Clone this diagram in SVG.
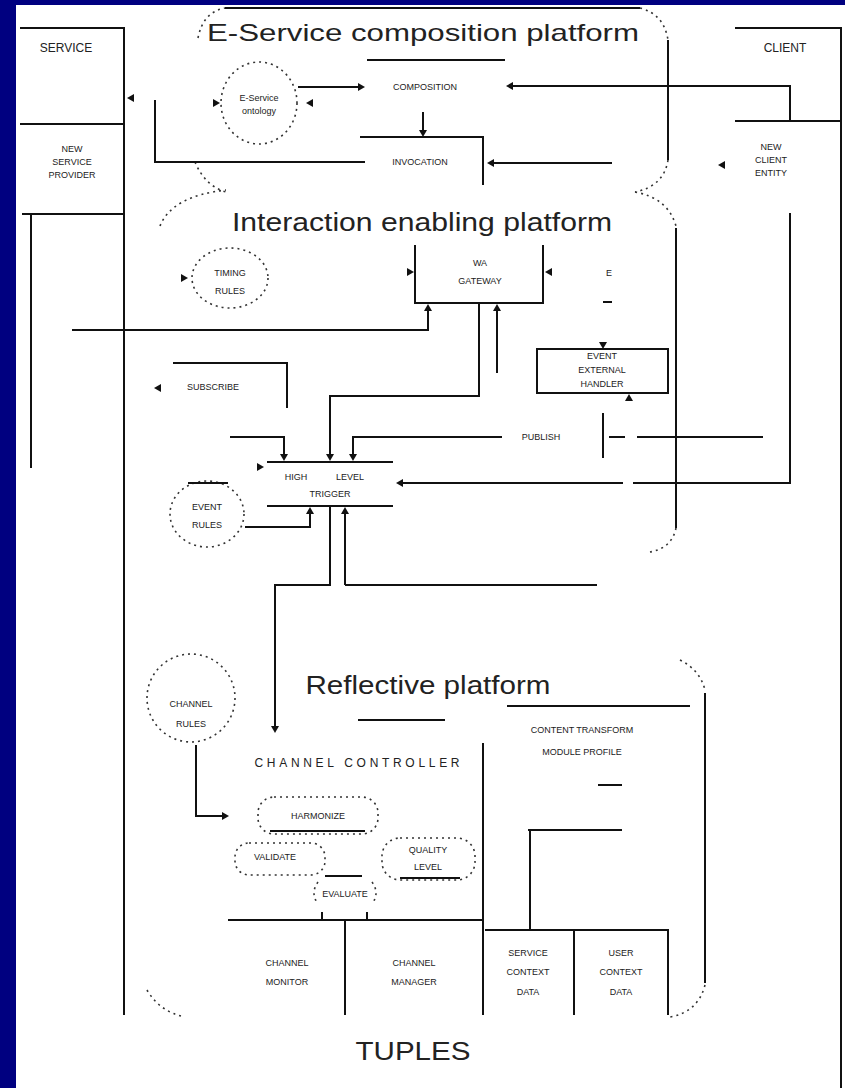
<svg xmlns="http://www.w3.org/2000/svg" xmlns:xlink="http://www.w3.org/1999/xlink" width="845" height="1088" viewBox="0 0 845 1088">
<style>
.s{fill:none;stroke:#111;stroke-width:2}
.d{fill:none;stroke:#333;stroke-width:1.6;stroke-dasharray:2 4}
.t{font-family:"Liberation Sans",Arial,sans-serif;font-size:9px;fill:#222;text-anchor:middle}
.n{font-family:"Liberation Sans",Arial,sans-serif;font-size:12px;fill:#222;text-anchor:middle}
.h{font-family:"Liberation Sans",Arial,sans-serif;fill:#222;text-anchor:middle}
</style>
<defs>
<path id="a" d="M0,0 L-7,-4 L-7,4 Z" fill="#111"/>
</defs>
<rect x="0" y="0" width="845" height="1088" fill="#000080"/>
<rect x="16" y="5" width="829" height="1083" fill="#fff"/>

<g id="platform-composition">
<path class="d" d="M198,38 Q203,12 225,8"/>
<path class="s" d="M225,8 H640"/>
<path class="d" d="M640,8 Q664,14 668,40"/>
<path class="s" d="M668,40 V160"/>
<path class="d" d="M668,160 Q664,186 635,192"/>
<path class="d" d="M195,162 Q205,186 226,192"/>
<text class="h" x="423" y="41" font-size="24" textLength="432" lengthAdjust="spacingAndGlyphs">E-Service composition platform</text>
</g>

<g id="platform-interaction">
<path class="d" d="M160,226 Q172,196 226,190"/>
<path class="d" d="M635,192 Q668,198 676,226"/>
<path class="s" d="M676,228 V528"/>
<path class="d" d="M676,528 Q672,548 650,552"/>
<text class="h" x="422" y="231" font-size="25" textLength="380" lengthAdjust="spacingAndGlyphs">Interaction enabling platform</text>
</g>

<g id="platform-reflective">
<path class="d" d="M680,660 Q700,670 705,690"/>
<path class="s" d="M705,693 V983"/>
<path class="d" d="M705,985 Q698,1012 670,1017"/>
<path class="d" d="M147,990 Q160,1012 185,1017"/>
<path class="s" d="M507,706 H690 M358,720 H445"/>
<text class="h" x="428" y="694" font-size="25" textLength="245" lengthAdjust="spacingAndGlyphs">Reflective platform</text>
</g>

<g id="service">
<path class="s" d="M20,28 H124 V1015 M20,124 H124 M22,214 H124 M31,214 V468"/>
<text class="n" x="66" y="52" font-size="13">SERVICE</text>
<text class="t" x="72" y="152">NEW</text>
<text class="t" x="72" y="165">SERVICE</text>
<text class="t" x="72" y="178">PROVIDER</text>
</g>

<g id="client">
<path class="s" d="M735,28 H841 V1088 M735,121 H841"/>
<text class="n" x="785" y="52" font-size="13">CLIENT</text>
<text class="t" x="771" y="150">NEW</text>
<text class="t" x="771" y="163">CLIENT</text>
<text class="t" x="771" y="176">ENTITY</text>
</g>

<g id="eservice-ontology">
<ellipse class="d" cx="259" cy="103" rx="38" ry="41"/>
<text class="t" x="259" y="101">E-Service</text>
<text class="t" x="259" y="114">ontology</text>
</g>

<g id="composition">
<path class="s" d="M367,60 H505"/>
<text class="t" x="425" y="90">COMPOSITION</text>
</g>

<g id="invocation">
<path class="s" d="M360,137 H483 V185"/>
<text class="t" x="420" y="165">INVOCATION</text>
</g>

<g id="timing-rules">
<ellipse class="d" cx="230" cy="278" rx="38" ry="30"/>
<text class="t" x="230" y="276">TIMING</text>
<text class="t" x="230" y="294">RULES</text>
</g>

<g id="wa-gateway">
<path class="s" d="M415,245 V303 H543 V245"/>
<text class="t" x="480" y="266">WA</text>
<text class="t" x="480" y="284">GATEWAY</text>
</g>

<g id="fragment">
<text class="t" x="609" y="276">E</text>
<path class="s" d="M603,302 H612" stroke-width="1.5"/>
</g>

<g id="external-handler">
<rect class="s" x="537" y="349" width="131" height="44"/>
<text class="t" x="602" y="359" font-size="8">EVENT</text>
<text class="t" x="602" y="373" font-size="8">EXTERNAL</text>
<text class="t" x="602" y="387" font-size="8">HANDLER</text>
</g>

<g id="subscribe">
<text class="t" x="213" y="390">SUBSCRIBE</text>
</g>

<g id="publish">
<text class="t" x="541" y="440">PUBLISH</text>
</g>

<g id="high-level-engine">
<path class="s" d="M267,462 H393 M267,506 H393"/>
<text class="t" x="296" y="480">HIGH</text>
<text class="t" x="350" y="480">LEVEL</text>
<text class="t" x="330" y="497">TRIGGER</text>
</g>

<g id="event-rules">
<ellipse class="d" cx="207" cy="514" rx="37" ry="33"/>
<path class="s" d="M188,483 H228" stroke-width="1.5"/>
<text class="t" x="207" y="510">EVENT</text>
<text class="t" x="207" y="528">RULES</text>
</g>

<g id="channel-rules">
<ellipse class="d" cx="191" cy="698" rx="44" ry="44"/>
<text class="t" x="191" y="707">CHANNEL</text>
<text class="t" x="191" y="727">RULES</text>
</g>

<g id="channel-controller">
<text class="n" x="357" y="767" textLength="205">CHANNEL CONTROLLER</text>
</g>

<g id="content-profile">
<text class="t" x="582" y="733">CONTENT TRANSFORM</text>
<text class="t" x="582" y="755">MODULE PROFILE</text>
<path class="s" d="M598,785 H622"/>
</g>

<g id="harmonize">
<rect class="d" x="258" y="797" width="120" height="37" rx="16"/>
<path class="s" d="M270,831 H365" stroke-width="1.5"/>
<text class="t" x="318" y="819">HARMONIZE</text>
</g>

<g id="validate">
<rect class="d" x="235" y="843" width="90" height="32" rx="14"/>
<text class="t" x="275" y="860">VALIDATE</text>
</g>

<g id="evaluate">
<path class="d" d="M318,882 Q310,893 318,904 M372,882 Q380,893 372,904"/>
<text class="t" x="345" y="897">EVALUATE</text>
</g>

<g id="quality-level">
<rect class="d" x="382" y="838" width="93" height="42" rx="18"/>
<path class="s" d="M400,878 H460" stroke-width="1.5"/>
<text class="t" x="428" y="853">QUALITY</text>
<text class="t" x="428" y="870">LEVEL</text>
</g>

<g id="channel-monitor">
<path class="s" d="M228,920 H483 M345,920 V1015"/>
<text class="t" x="287" y="966">CHANNEL</text>
<text class="t" x="287" y="985">MONITOR</text>
</g>

<g id="channel-manager">
<text class="t" x="414" y="966">CHANNEL</text>
<text class="t" x="414" y="985">MANAGER</text>
</g>

<g id="service-context">
<path class="s" d="M483,743 V1015 M485,930 H668 V1015 M574,930 V1015 M530,830 V930 M528,830 H622"/>
<text class="t" x="528" y="956">SERVICE</text>
<text class="t" x="528" y="975">CONTEXT</text>
<text class="t" x="528" y="995">DATA</text>
</g>

<g id="user-context">
<text class="t" x="621" y="956">USER</text>
<text class="t" x="621" y="975">CONTEXT</text>
<text class="t" x="621" y="995">DATA</text>
</g>

<g id="tuples">
<text class="h" x="413" y="1060" font-size="26" textLength="115" lengthAdjust="spacingAndGlyphs">TUPLES</text>
</g>

<g id="connectors">
<path class="s" d="M298,87 H363"/>
<use xlink:href="#a" transform="translate(365,87)"/>
<path class="s" d="M790,121 V86 H510"/>
<use xlink:href="#a" transform="translate(506,86) rotate(180)"/>
<path class="s" d="M423,112 V135"/>
<use xlink:href="#a" transform="translate(423,137) rotate(90)"/>
<path class="s" d="M612,163 H492"/>
<use xlink:href="#a" transform="translate(487,163) rotate(180)"/>
<path class="s" d="M365,162 H155 V100"/>
<use xlink:href="#a" transform="translate(127,98) rotate(180)"/>
<use xlink:href="#a" transform="translate(220,103)"/>
<use xlink:href="#a" transform="translate(306,103) rotate(180)"/>
<use xlink:href="#a" transform="translate(718,165) rotate(180)"/>
<use xlink:href="#a" transform="translate(188,278)"/>
<use xlink:href="#a" transform="translate(414,272)"/>
<use xlink:href="#a" transform="translate(545,272) rotate(180)"/>
<path class="s" d="M72,330 H428 V306"/>
<use xlink:href="#a" transform="translate(428,304) rotate(-90)"/>
<path class="s" d="M497,373 V306"/>
<use xlink:href="#a" transform="translate(497,304) rotate(-90)"/>
<path class="s" d="M479,303 V396 H330 V455"/>
<use xlink:href="#a" transform="translate(330,461) rotate(90)"/>
<use xlink:href="#a" transform="translate(603,349) rotate(90)"/>
<use xlink:href="#a" transform="translate(629,394) rotate(-90)"/>
<path class="s" d="M173,363 H287 V408"/>
<use xlink:href="#a" transform="translate(154,388) rotate(180)"/>
<path class="s" d="M230,437 H284 V455"/>
<use xlink:href="#a" transform="translate(284,461) rotate(90)"/>
<path class="s" d="M502,437 H353 V455"/>
<use xlink:href="#a" transform="translate(353,461) rotate(90)"/>
<path class="s" d="M603,413 V458 M609,437 H625 M637,437 H763"/>
<path class="s" d="M790,213 V483 H633 M623,483 H402"/>
<use xlink:href="#a" transform="translate(396,483) rotate(180)"/>
<use xlink:href="#a" transform="translate(264,467)"/>
<path class="s" d="M245,527 H310 V512"/>
<use xlink:href="#a" transform="translate(310,507) rotate(-90)"/>
<path class="s" d="M345,585 V512"/>
<use xlink:href="#a" transform="translate(345,507) rotate(-90)"/>
<path class="s" d="M345,585 H597"/>
<path class="s" d="M330,506 V585 H275 V727"/>
<use xlink:href="#a" transform="translate(275,733) rotate(90)"/>
<path class="s" d="M196,745 V816 H222"/>
<use xlink:href="#a" transform="translate(229,816)"/>
<path class="s" d="M325,876 H362"/>
<path class="s" d="M322,912 V919 M367,912 V919" stroke-width="1.5"/>
</g>
</svg>
